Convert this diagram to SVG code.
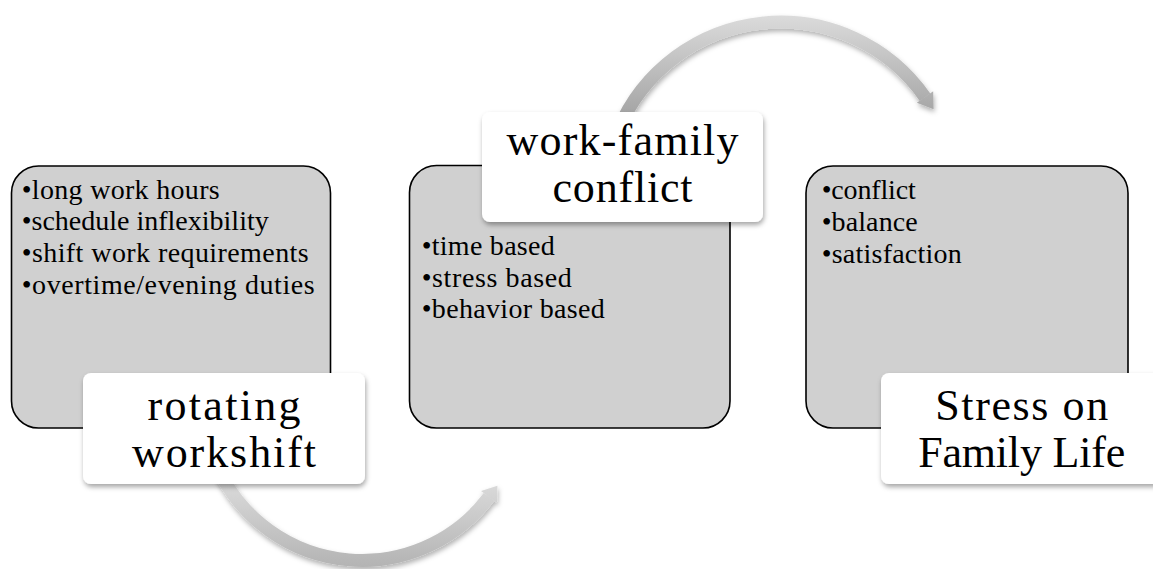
<svg xmlns="http://www.w3.org/2000/svg" width="1153" height="569" viewBox="0 0 1153 569">
  <defs>
    <filter id="shadow" x="-20%" y="-20%" width="140%" height="150%">
      <feDropShadow dx="1" dy="3" stdDeviation="2.5" flood-color="#000" flood-opacity="0.35"/>
    </filter>
    <filter id="arrowShadow" x="-20%" y="-20%" width="140%" height="150%">
      <feDropShadow dx="1" dy="3" stdDeviation="2.5" flood-color="#000" flood-opacity="0.3"/>
    </filter>
    <linearGradient id="gradBottom" gradientUnits="userSpaceOnUse" x1="0" y1="470" x2="0" y2="568">
      <stop offset="0" stop-color="#e0e0e0"/>
      <stop offset="1" stop-color="#b3b3b3"/>
    </linearGradient>
    <linearGradient id="gradTop" gradientUnits="userSpaceOnUse" x1="0" y1="14" x2="0" y2="112">
      <stop offset="0" stop-color="#dcdcdc"/>
      <stop offset="1" stop-color="#a6a6a6"/>
    </linearGradient>
  </defs>
  <style>
    .box { fill: #d0d0d0; stroke: #000; stroke-width: 1.6; }
    .label { fill: #fff; filter: url(#shadow); }
    .item { font-family: "Liberation Serif", "DejaVu Serif", serif; font-size: 28px; fill: #000; }
    .big { font-family: "Liberation Serif", "DejaVu Serif", serif; font-size: 44px; fill: #000; text-anchor: middle; }
  </style>

  <g id="connectors">
    <g id="arrow-bottom" filter="url(#arrowShadow)">
      <path d="M 221.1 475 A 158.9 158.9 0 0 0 489 497" fill="none" stroke="url(#gradBottom)" stroke-width="13"/>
      <polygon points="497,503 481,491 497.4,485.8" fill="url(#gradBottom)"/>
    </g>
    <g id="arrow-top" filter="url(#arrowShadow)">
      <path d="M 618.2 130 A 176.3 176.3 0 0 1 925 97.2" fill="none" stroke="url(#gradTop)" stroke-width="13"/>
      <polygon points="933.2,91.2 916.8,102.8 933.6,109.3" fill="url(#gradTop)"/>
    </g>
  </g>

  <g id="node-rotating">
    <rect class="box" x="11.5" y="166" width="319" height="262" rx="27"/>
    <text class="item" x="21.7" y="198.5" textLength="198" lengthAdjust="spacing">•long work hours</text>
    <text class="item" x="21.7" y="230.2" textLength="247" lengthAdjust="spacing">•schedule inflexibility</text>
    <text class="item" x="21.7" y="261.9" textLength="287" lengthAdjust="spacing">•shift work requirements</text>
    <text class="item" x="21.7" y="293.6" textLength="293" lengthAdjust="spacing">•overtime/evening duties</text>
    <rect class="label" x="83" y="373" width="282" height="111" rx="8"/>
    <text class="big" x="224" y="420" textLength="153" lengthAdjust="spacing">rotating</text>
    <text class="big" x="224" y="467" textLength="184" lengthAdjust="spacing">workshift</text>
  </g>

  <g id="node-conflict">
    <rect class="box" x="409.5" y="165.5" width="320.5" height="262.5" rx="27"/>
    <text class="item" x="421.7" y="255" textLength="133" lengthAdjust="spacing">•time based</text>
    <text class="item" x="421.7" y="286.7" textLength="150" lengthAdjust="spacing">•stress based</text>
    <text class="item" x="421.7" y="318.3" textLength="183" lengthAdjust="spacing">•behavior based</text>
    <rect class="label" x="482" y="112" width="281" height="110" rx="8"/>
    <text class="big" x="622.5" y="155" textLength="232" lengthAdjust="spacing">work-family</text>
    <text class="big" x="622.5" y="201.7" textLength="140" lengthAdjust="spacing">conflict</text>
  </g>

  <g id="node-stress">
    <rect class="box" x="806" y="166" width="322" height="262" rx="27"/>
    <text class="item" x="821.7" y="199.3" textLength="94" lengthAdjust="spacing">•conflict</text>
    <text class="item" x="821.7" y="231" textLength="96" lengthAdjust="spacing">•balance</text>
    <text class="item" x="821.7" y="262.7" textLength="140" lengthAdjust="spacing">•satisfaction</text>
    <rect class="label" x="881" y="373" width="281" height="111" rx="8"/>
    <text class="big" x="1021.7" y="420" textLength="173" lengthAdjust="spacing">Stress on</text>
    <text class="big" x="1021.7" y="467.3" textLength="207" lengthAdjust="spacing">Family Life</text>
  </g>
</svg>
